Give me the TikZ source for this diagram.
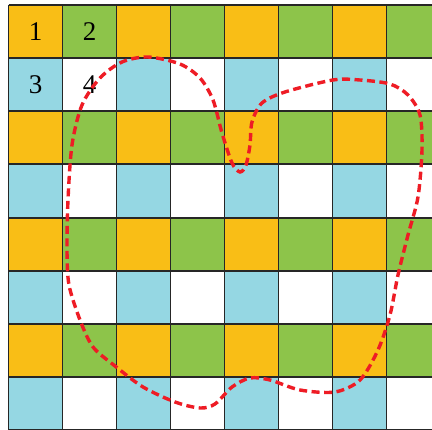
\documentclass[tikz,border=0pt]{standalone}
\usepackage{fontspec}
\setmainfont{Liberation Serif}
\definecolor{cOrange}{HTML}{F9BE16}
\definecolor{cGreen}{HTML}{8DC44A}
\definecolor{cBlue}{HTML}{95D7E3}
\definecolor{cLine}{HTML}{262626}
\definecolor{cRed}{HTML}{EE1C25}
\begin{document}
\begin{tikzpicture}[x=1pt,y=-1pt,
  gridline/.style={draw=cLine,line width=1.9pt},
  numlabel/.style={font=\fontsize{27}{27}\selectfont,text=black,inner sep=0pt},
  blob/.style={draw=cRed,line width=3.4pt,dash pattern=on 8pt off 4.5pt}]
\useasboundingbox (0,0) rectangle (432,430);
\begin{scope}
\clip (0,0) rectangle (432,430);
\fill[white] (0,0) rectangle (432,430);
\foreach \j in {0,...,7}{
  \foreach \i in {0,...,7}{
    \pgfmathtruncatemacro{\r}{mod(\j,2)}
    \pgfmathtruncatemacro{\c}{mod(\i,2)}
    \ifnum\r=0
      \ifnum\c=0 \def\col{cOrange}\else\def\col{cGreen}\fi
    \else
      \ifnum\c=0 \def\col{cBlue}\else\def\col{white}\fi
    \fi
    \fill[\col] ({8.5+54*\i},{5+53.15*\j}) rectangle ({8.5+54*(\i+1)},{5+53.15*(\j+1)});
  }
}
\foreach \i in {0,...,8}{
  \draw[gridline] ({8.5+54*\i},5) -- ({8.5+54*\i},430.2);
}
\foreach \j in {0,...,8}{
  \draw[gridline] (8.5,{5+53.15*\j}) -- (445,{5+53.15*\j});
}
\end{scope}
\node[numlabel] (n1) at (35.5,31.5) {1};
\node[numlabel] (n2) at (89.5,31.5) {2};
\node[numlabel] (n3) at (35.5,84.5) {3};
\node[numlabel] (n4) at (89.5,84.5) {4};
\draw[blob] plot[smooth cycle,tension=0.5] coordinates {
 (148,57) (180,64) (200,78) (213,100) (222,133) (232,163) (240,172) (246,165)
 (250,145) (252,122) (262,103) (285,92) (333,80) (360,80) (390,84) (408,95)
 (420,115) (422,150) (418,197) (408,235) (398,275) (390,315) (378,350) (360,380)
 (335,392) (300,390) (270,380) (250,378) (232,387) (215,404) (200,408) (175,402)
 (143,387) (115,366) (93,347) (80,320) (69,285) (67,250) (68,200) (72,145)
 (82,105) (100,78) (122,62)};
\end{tikzpicture}
\end{document}
